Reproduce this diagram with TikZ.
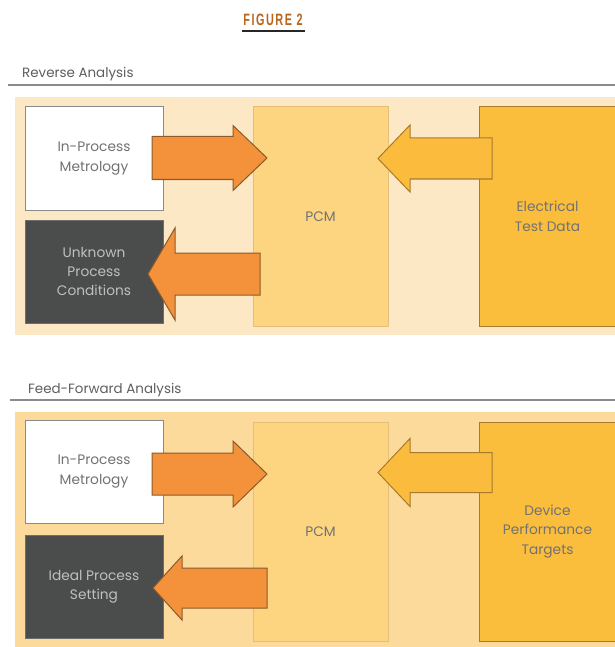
\documentclass[tikz,border=0pt]{standalone}
\usepackage{fontspec}
\setmainfont{Poppins}
\newfontfamily\figfont{Liberation Sans}[LetterSpace=14]
\definecolor{figbrown}{HTML}{B9661C}
\definecolor{headgray}{HTML}{5E5E5E}
\definecolor{rulegray}{HTML}{8A8A8A}
\definecolor{panelA}{HTML}{FDE8C5}
\definecolor{panelB}{HTML}{FCDA9C}
\definecolor{txtgray}{HTML}{727272}
\definecolor{darkfill}{HTML}{4B4D4D}
\definecolor{darkline}{HTML}{6E6E6E}
\definecolor{pcmfill}{HTML}{FDD480}
\definecolor{pcmline}{HTML}{E6BE78}
\definecolor{srcfill}{HTML}{FBBD3C}
\definecolor{srcline}{HTML}{A9792C}
\definecolor{orfill}{HTML}{F4923C}
\definecolor{orline}{HTML}{8C5A2A}
\definecolor{yefill}{HTML}{FBBC3E}
\definecolor{yeline}{HTML}{A87A2C}
% block arrow: style, tail x, head-base x, tip x, centre y, shaft half-height, head half-height
\newcommand\blockarrow[7]{%
  \draw[#1] (#2,#5-#6) -- (#3,#5-#6) -- (#3,#5-#7) -- (#4,#5)
    -- (#3,#5+#7) -- (#3,#5+#6) -- (#2,#5+#6) -- cycle;}
\begin{document}
\begin{tikzpicture}[x=1bp,y=-1bp,
  lbl/.style={font=\fontsize{13.8}{19.5}\selectfont, align=center},
  card/.style={anchor=north west, inner sep=0pt, outer sep=0pt, line width=1bp,
    minimum width=138bp, minimum height=103bp, lbl},
  inbox/.style={card, fill=white, draw=rulegray, text=txtgray},
  outbox/.style={card, fill=darkfill, draw=darkline, text=white!75!black},
  pcmbox/.style={anchor=north west, inner sep=0pt, outer sep=0pt, line width=1bp,
    minimum width=135bp, minimum height=219bp, fill=pcmfill, draw=pcmline, lbl, text=txtgray},
  srcbox/.style={anchor=north west, inner sep=0pt, outer sep=0pt, line width=1bp,
    minimum width=137bp, minimum height=219bp, fill=srcfill, draw=srcline, lbl, text=txtgray},
  orarrow/.style={fill=orfill, draw=orline, line width=1bp, line join=miter},
  yearrow/.style={fill=yefill, draw=yeline, line width=1bp, line join=miter},
  section/.style={anchor=base west, inner sep=0pt, font=\fontsize{13.5}{16}\selectfont, text=headgray},
  sectionrule/.style={draw=rulegray, line width=2bp}
]
\useasboundingbox[fill=white] (0,0) rectangle (615,647);

% title
\node[inner sep=0pt, text=figbrown] (title) at (273,20)
  {\scalebox{0.66}[1]{\fontsize{16.5}{18}\figfont\bfseries FIGURE 2}};
\draw[line width=1.4bp, black!85] (242,31) -- (305,31);

% ---------- Reverse Analysis ----------
\node[section] (revhead) at (22,78) {Reverse Analysis};
\draw[sectionrule] (8,85) -- (615,85);
\fill[panelA] (15,97) rectangle (615,335);

\node[inbox] (ipmA) at (25,107) {In-Process\\Metrology};
\node[outbox] (unkA) at (25,220) {Unknown\\Process\\Conditions};
\node[pcmbox] (pcmA) at (253,107) {PCM};
\node[srcbox] (etdA) at (479,107) {Electrical\\Test Data};

\blockarrow{orarrow}{152}{233}{267}{158}{21.5}{32.5}
\blockarrow{orarrow}{260}{175}{148}{274}{21}{46}
\blockarrow{yearrow}{492}{410}{378}{158.5}{20.5}{33.5}

% ---------- Feed-Forward Analysis ----------
\node[section] (ffhead) at (28,393) {Feed-Forward Analysis};
\draw[sectionrule] (10,400) -- (615,400);
\fill[panelB] (15,412) rectangle (615,647);

\node[inbox] (ipmB) at (25,420) {In-Process\\Metrology};
\node[outbox] (idlB) at (25,535) {Ideal Process\\Setting};
\node[pcmbox] (pcmB) at (253,422) {PCM};
\node[srcbox] (dptB) at (479,422) {Device\\Performance\\Targets};

\blockarrow{orarrow}{152}{233}{267}{474}{21}{33}
\blockarrow{orarrow}{267}{182}{153}{588}{20}{32}
\blockarrow{yearrow}{492}{410}{378}{472.5}{20}{34}
\end{tikzpicture}
\end{document}
